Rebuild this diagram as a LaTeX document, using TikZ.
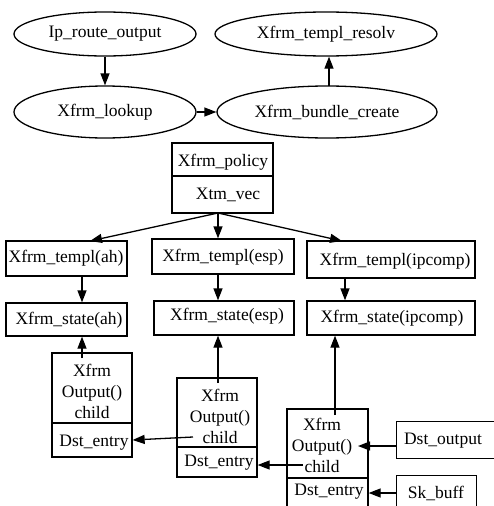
\documentclass[tikz,border=0pt]{standalone}
\usepackage{fontspec}
\setmainfont{Liberation Serif}
\newfontfamily\tfont{Liberation Serif}
\usetikzlibrary{shapes.geometric,arrows.meta}
\begin{document}
\begin{tikzpicture}[x=1pt,y=-1pt,
  every node/.style={font=\tfont\fontsize{17.5}{21}\selectfont, inner sep=0pt},
  ell/.style={draw, ellipse, line width=1.3pt},
  rbox/.style={draw, rectangle, line width=1.3pt},
  lbl/.style={align=center},
  arr/.style={line width=1.3pt, -{Triangle[length=12pt,width=9pt]}}]
\useasboundingbox (0,0) rectangle (494,506);
% ellipses
\node[ell, minimum width=182pt, minimum height=44pt] (ipr) at (105,34) {Ip\_route\_output};
\node[ell, minimum width=222pt, minimum height=44pt] (res) at (326,34) {Xfrm\_templ\_resolv};
\node[ell, minimum width=182pt, minimum height=52pt] (lkp) at (105,112) {Xfrm\_lookup};
\node[ell, minimum width=220pt, minimum height=52pt] (bun) at (327,112) {Xfrm\_bundle\_create};
\draw[arr] (ipr) -- (lkp);
\draw[arr] (lkp) -- (bun);
\coordinate (bn) at (329,86);
\draw[arr] (bn) -- (bn |- res.south);
% policy record
\node[rbox, minimum width=101pt, minimum height=33pt] (pol) at (222.5,159.5) {};
\node[lbl] (pol-l) at (223,162) {Xfrm\_policy};
\node[rbox, minimum width=101pt, minimum height=37pt] (polv) at (222.5,194.5) {};
\node[lbl] (polv-l) at (228,195) {Xtm\_vec};
% templ
\node[rbox, minimum width=121pt, minimum height=35pt] (tah) at (66.5,258.5) {};
\node[lbl] (tah-l) at (66,258) {Xfrm\_templ(ah)};
\node[rbox, minimum width=142pt, minimum height=35pt] (tesp) at (223,256.5) {};
\node[lbl] (tesp-l) at (223,257) {Xfrm\_templ(esp)};
\node[rbox, minimum width=168pt, minimum height=37pt] (tip) at (391,259.5) {};
\node[lbl] (tip-l) at (395,261) {Xfrm\_templ(ipcomp)};
% state
\node[rbox, minimum width=121pt, minimum height=33pt] (sah) at (66.5,319.5) {};
\node[lbl] (sah-l) at (69,320) {Xfrm\_state(ah)};
\node[rbox, minimum width=140pt, minimum height=34pt] (sesp) at (224,318) {};
\node[lbl] (sesp-l) at (227,316) {Xfrm\_state(esp)};
\node[rbox, minimum width=168pt, minimum height=34pt] (sip) at (391,318) {};
\node[lbl] (sip-l) at (392,318) {Xfrm\_state(ipcomp)};
% policy -> templ
\coordinate (pb) at (218,213);
\draw[arr] (pb) -- (90,241) coordinate (tahin);
\draw[arr] (pb) -- (pb |- tesp.north);
\draw[arr] (pb) -- (342,241) coordinate (tipin);
% templ -> state
\draw[arr] (tah.south -| 82,0) -- (sah.north -| 82,0);
\draw[arr] (tesp.south -| 218,0) -- (sesp.north -| 218,0);
\draw[arr] (tip.south -| 345,0) -- (sip.north -| 345,0);
% output records
\node[rbox, minimum width=80pt, minimum height=70pt] (o1) at (92,388) {};
\node[lbl] (o1-l) at (92,391) {Xfrm\\Output()\\child};
\node[rbox, minimum width=80pt, minimum height=34pt] (o1d) at (92,440) {};
\node[lbl] (o1d-l) at (94,443) {Dst\_entry};
\node[rbox, minimum width=80pt, minimum height=69pt] (o2) at (217,412.5) {};
\node[lbl] (o2-l) at (220,416) {Xfrm\\Output()\\child};
\node[rbox, minimum width=80pt, minimum height=30pt] (o2d) at (217,462) {};
\node[lbl] (o2d-l) at (219,463) {Dst\_entry};
\node[rbox, minimum width=81pt, minimum height=69pt] (o3) at (327.5,443.5) {};
\node[lbl] (o3-l) at (322,445) {Xfrm\\Output()\\child};
\node[rbox, minimum width=81pt, minimum height=42pt] (o3d) at (327.5,499) {};
\node[lbl] (o3d-l) at (329,492) {Dst\_entry};
\node[rbox, minimum width=110pt, minimum height=37pt, anchor=north west] (dout) at (396,421) {};
\node[lbl] (dout-l) at (443,441) {Dst\_output};
\node[rbox, minimum width=80pt, minimum height=45pt, anchor=north west] (sk) at (396,475) {};
\node[lbl] (sk-l) at (436,493) {Sk\_buff};
% output -> state
\coordinate (o1s) at (82,358);
\coordinate (o2s) at (218,383);
\coordinate (o3s) at (335,415);
\draw[arr] (o1s) -- (o1s |- sah.south);
\draw[arr] (o2s) -- (o2s |- sesp.south);
\draw[arr] (o3s) -- (o3s |- sip.south);
% child -> dst_entry
\coordinate (c2) at (193,437);
\coordinate (c3) at (303,465);
\draw[arr] (c2) -- (o1d.east);
\draw[arr] (c3) -- (o2d.east |- c3);
\coordinate (o3p) at (358,446);
\draw[arr] (dout.west |- o3p) -- (o3p);
\draw[arr] (sk.west |- 0,493) -- (o3d.east |- 0,493);
\end{tikzpicture}
\end{document}
